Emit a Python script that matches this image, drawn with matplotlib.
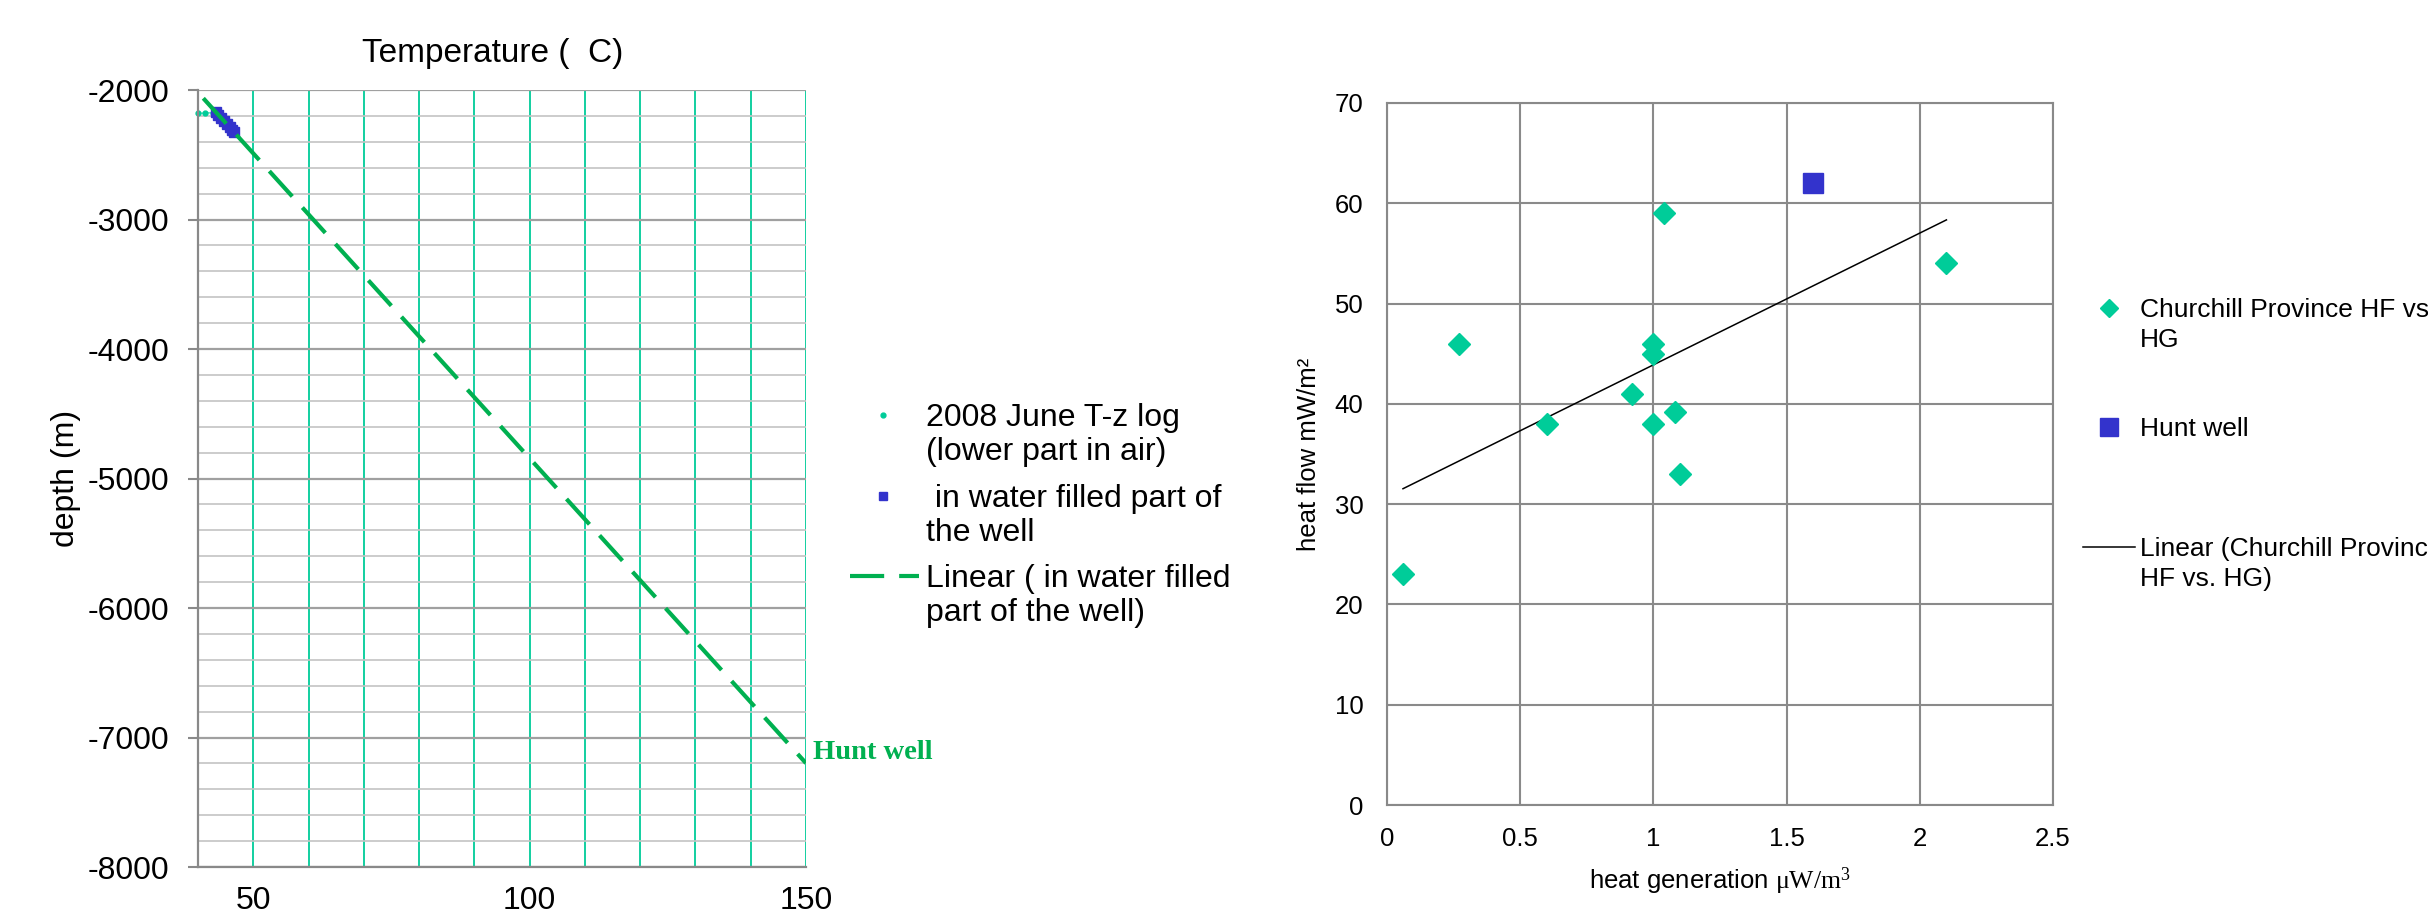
import matplotlib
matplotlib.use("Agg")
import matplotlib.pyplot as plt
from matplotlib.lines import Line2D
from matplotlib.ticker import MultipleLocator, FuncFormatter
import numpy as np

plt.rcParams['font.family'] = ['Liberation Sans', 'DejaVu Sans']
plt.rcParams['axes.unicode_minus'] = False
plt.rcParams['mathtext.fontset'] = 'custom'
plt.rcParams['mathtext.rm'] = 'Liberation Serif'
plt.rcParams['mathtext.it'] = 'Liberation Serif:italic'

# --- left chart: T-z log of the Hunt well ---
air_temp = [40.0, 41.3, 42.7]
air_depth = [-2180, -2178, -2176]
water_temp = [43.2, 43.7, 44.2, 44.7, 45.2, 45.7, 46.2, 46.6]
water_depth = [-2168, -2192, -2215, -2238, -2262, -2285, -2309, -2328]
trend_slope = -47.09   # m per deg C
trend_icpt = -135.0
trend_temp = [40.96, 150.0]

# --- right chart: heat flow vs heat generation ---
hg = [0.27, 0.06, 0.60, 0.92, 1.00, 1.00, 1.00, 1.08, 1.10, 1.04, 2.10]
hf = [46, 23, 38, 41, 46, 45, 38, 39.2, 33, 59, 54]
hunt_hg = [1.6]
hunt_hf = [62]
fit_slope = 13.14
fit_icpt = 30.75

TEAL = '#00CC99'
GREEN = '#00B050'
BLUE = '#3333CC'
GRAY = '#898989'

W, H = 2428, 922
def fx(px):
    return px / W
def fy(py):
    return 1 - py / H

fig = plt.figure(figsize=(W / 100, H / 100), dpi=100)

# left axes
ax1 = fig.add_axes([fx(198), fy(867), (806 - 198) / W, (867 - 90) / H])
ax1.set_xlim(40, 150)
ax1.set_ylim(-8000, -2000)
ax1.set_xticks([50, 100, 150])
ax1.xaxis.set_minor_locator(MultipleLocator(10))
ax1.set_yticks(range(-8000, -1999, 1000))
ax1.yaxis.set_minor_locator(MultipleLocator(200))
ax1.grid(which='both', axis='x', color=TEAL, lw=1.3)
ax1.grid(which='minor', axis='y', color='#c4c4c4', lw=1.2)
ax1.grid(which='major', axis='y', color='#a0a0a0', lw=1.6)
ax1.set_axisbelow(True)
for s in ['top', 'right']:
    ax1.spines[s].set_visible(False)
for s in ['left', 'bottom']:
    ax1.spines[s].set_color(GRAY)
    ax1.spines[s].set_linewidth(1.6)
ax1.tick_params(axis='x', which='both', length=0, pad=14, labelsize=23)
ax1.tick_params(axis='y', which='major', length=7, width=1.5, color=GRAY, pad=13.5, labelsize=23)
ax1.tick_params(axis='y', which='minor', length=0)
ax1.set_title('Temperature (  C)', fontsize=24, pad=20, x=0.485)
ax1.set_ylabel('depth (m)', fontsize=23, labelpad=5)

ax1.plot(air_temp, air_depth, ls='-', lw=0.7, marker='o', ms=3.5, color=TEAL, clip_on=False)
ax1.plot(water_temp, water_depth, ls='none', marker='s', ms=6.5, color=BLUE)
tz = trend_slope * np.array(trend_temp) + trend_icpt
ax1.plot(trend_temp, tz, color=GREEN, lw=3, dashes=(8.2, 3.6))
ax1.annotate('Hunt well', xy=(trend_temp[-1], tz[-1]), xytext=(5, 8),
             textcoords='offset points', fontsize=20.5, fontweight='bold',
             family='Liberation Serif', color=GREEN, va='center', ha='left',
             annotation_clip=False)

# right axes
ax2 = fig.add_axes([fx(1387), fy(805), (2053 - 1387) / W, (805 - 103) / H])
ax2.set_xlim(0, 2.5)
ax2.set_ylim(0, 70)
ax2.set_xticks(np.arange(0, 2.51, 0.5))
ax2.set_yticks(range(0, 71, 10))
ax2.xaxis.set_major_formatter(FuncFormatter(lambda v, p: f'{v:g}'))
ax2.grid(color='#8a8a8a', lw=1.5)
ax2.set_axisbelow(True)
for s in ax2.spines.values():
    s.set_color(GRAY)
    s.set_linewidth(1.5)
ax2.tick_params(axis='both', length=0, labelsize=18.5)
ax2.tick_params(axis='y', pad=17)
ax2.tick_params(axis='x', pad=16)
ax2.set_xlabel(r'heat generation $\mathrm{\mu W/m^3}$', fontsize=18.5, labelpad=10)
ax2.set_ylabel('heat flow mW/m²', fontsize=18.5, labelpad=9.5)

ax2.plot(hg, hf, ls='none', marker='D', ms=10.8, color=TEAL, zorder=3)
ax2.plot(hunt_hg, hunt_hf, ls='none', marker='s', ms=14.4, color=BLUE, zorder=3)
fx_line = np.array([min(hg), max(hg)])
ax2.plot(fx_line, fit_slope * fx_line + fit_icpt, color='black', lw=1.1, zorder=2)

# legends drawn by hand so the handle lines up with the first text line
def legend_row(handle, yc, lines, tx, fs, step):
    fig.add_artist(handle)
    cap = 0.716 * fs * 100 / 72
    for i, line in enumerate(lines):
        fig.text(fx(tx), fy(yc + cap / 2 + i * step), line, fontsize=fs,
                 va='baseline', ha='left')

ft = fig.transFigure
legend_row(Line2D([fx(883)], [fy(415)], marker='o', ms=3.5, color=TEAL, ls='none', transform=ft),
           415, ['2008 June T-z log', '(lower part in air)'], 926, 23, 34)
legend_row(Line2D([fx(883)], [fy(496)], marker='s', ms=5.3, color=BLUE, ls='none', transform=ft),
           496, [' in water filled part of', 'the well'], 926, 23, 34)
legend_row(Line2D([fx(850), fx(919)], [fy(576)] * 2, color=GREEN, lw=3, dashes=(8.2, 3.6), transform=ft),
           576, ['Linear ( in water filled', 'part of the well)'], 926, 23, 34)

legend_row(Line2D([fx(2109)], [fy(308)], marker='D', ms=9, color=TEAL, ls='none', transform=ft),
           308, ['Churchill Province HF vs.', 'HG'], 2140, 19, 30)
legend_row(Line2D([fx(2109)], [fy(427)], marker='s', ms=13, color=BLUE, ls='none', transform=ft),
           427, ['Hunt well'], 2140, 19, 30)
legend_row(Line2D([fx(2083), fx(2135)], [fy(547)] * 2, color='black', lw=1.1, transform=ft),
           547, ['Linear (Churchill Province', 'HF vs. HG)'], 2140, 19, 30)

fig.savefig('out.png', dpi=100)
